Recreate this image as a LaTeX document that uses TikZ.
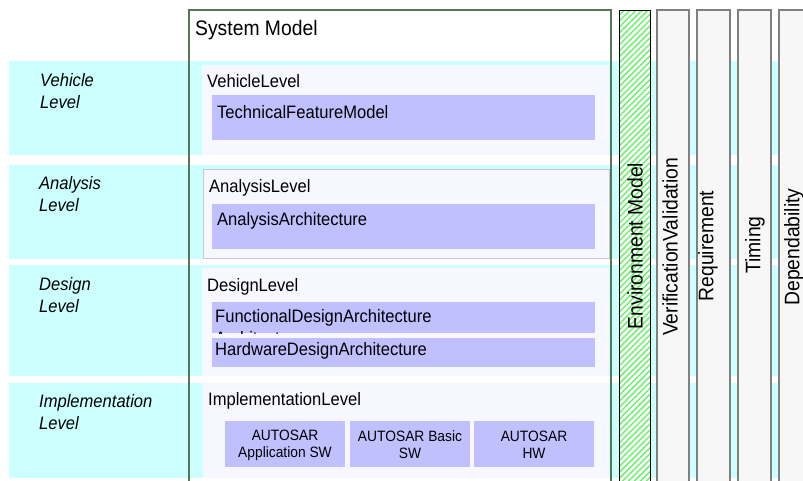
\documentclass[tikz,border=0pt]{standalone}
\usepackage{fontspec}
\setmainfont{Liberation Sans}[FakeStretch=0.92]
\usetikzlibrary{patterns.meta}

\definecolor{bandcyan}{HTML}{CCFFFF}
\definecolor{levelfill}{HTML}{F7F7FF}
\definecolor{partfill}{HTML}{C0C0FF}
\definecolor{colfill}{HTML}{F7F7F7}
\definecolor{colline}{HTML}{808080}
\definecolor{sysline}{HTML}{557755}
\definecolor{hatchgreen}{HTML}{70F070}
\definecolor{boxline}{HTML}{C8C8C8}

\begin{document}
\begin{tikzpicture}[x=1pt,y=-1pt,
  txt/.style={anchor=base west, inner sep=0pt, font=\fontsize{18}{22}\selectfont},
  title/.style={anchor=base west, inner sep=0pt, font=\fontsize{21}{25}\selectfont},
  lvltxt/.style={anchor=base west, inner sep=0pt, align=left,
    font=\fontsize{18}{22}\selectfont\itshape},
  swtxt/.style={inner sep=0pt, align=center, font=\fontsize{15}{17}\selectfont},
  coltxt/.style={rotate=90, inner sep=0pt, font=\fontsize{21}{25}\selectfont},
  band/.style={fill=bandcyan},
  levelbox/.style={fill=levelfill},
  part/.style={fill=partfill},
  viewcol/.style={fill=colfill, draw=colline, line width=1.6pt},
]
\useasboundingbox (0,0) rectangle (803,480);
\clip (0,0) rectangle (803,480);

% system model background
\fill[white] (189,10) rectangle (611,500);

% abstraction level bands
\fill[band] (9,61)  rectangle (803,155);
\fill[band] (9,165) rectangle (803,259);
\fill[band] (9,265) rectangle (803,376);
\fill[band] (9,383) rectangle (803,478);

% level containers
\fill[levelbox] (202,65)  rectangle (609,155);
\filldraw[levelbox, draw=boxline, line width=0.8pt] (203,169) rectangle (609,258);
\fill[levelbox] (202,268) rectangle (609,376);
\fill[levelbox] (203,383) rectangle (609,478);

% level contents
\fill[part] (212,95)  rectangle (595,140);
\fill[part] (212,204) rectangle (595,249);
\fill[part] (212,302) rectangle (595,333);
\fill[part] (212,338) rectangle (595,367);
\fill[part] (225,421) rectangle (345,467);
\fill[part] (350,421) rectangle (470,467);
\fill[part] (474,421) rectangle (594,467);

% system model frame
\draw[sysline, line width=1.2pt] (189,500) -- (189,10) -- (611,10) -- (611,500);

% cross-cutting columns
\fill[white] (619,10) rectangle (650,500);
\fill[pattern={Lines[angle=45,distance=4.2pt,line width=1.5pt]}, pattern color=hatchgreen]
  (619,10) rectangle (650,500);
\draw[black, line width=1pt] (619,500) -- (619,10) -- (650,10) -- (650,500);
\draw[viewcol] (657,500) -- (657,10) -- (689,10) -- (689,500);
\draw[viewcol] (697,500) -- (697,10) -- (730,10) -- (730,500);
\draw[viewcol] (738,500) -- (738,10) -- (771,10) -- (771,500);
\draw[viewcol] (779,500) -- (779,10) -- (820,10) -- (820,500);

% texts (base of a two-line node is the baseline of its last line)
\node[title] (sysmodel) at (195,35) {System Model};

\node[lvltxt] (vehlbl)  at (40,108) {Vehicle\\Level};
\node[lvltxt] (analbl)  at (39,211) {Analysis\\Level};
\node[lvltxt] (deslbl)  at (39,312) {Design\\Level};
\node[lvltxt] (implbl)  at (39,429) {Implementation\\Level};

\node[txt] (vehlevel) at (207,87)  {VehicleLevel};
\node[txt] (tfm)      at (217,118) {TechnicalFeatureModel};
\node[txt] (analevel) at (209,192) {AnalysisLevel};
\node[txt] (aa)       at (217,225) {AnalysisArchitecture};
\node[txt] (deslevel) at (207,291) {DesignLevel};
\begin{scope}
  \clip (212,302) rectangle (595,333);
  \node[txt, align=left] (fda) at (215,344) {FunctionalDesignArchitecture\\Architecture};
\end{scope}
\node[txt] (hda)      at (215,355) {HardwareDesignArchitecture};
\node[txt] (implevel) at (208,405) {ImplementationLevel};

\node[swtxt] (appsw)   at (285,445) {AUTOSAR\\Application SW};
\node[swtxt] (basicsw) at (410,445) {AUTOSAR Basic\\SW};
\node[swtxt] (hw)      at (534,445) {AUTOSAR\\HW};

\node[coltxt] (envmodel) at (635,246) {Environment Model};
\node[coltxt] (vv)       at (670,247) {VerificationValidation};
\node[coltxt] (req)      at (708,246) {Requirement};
\node[coltxt] (timing)   at (755,245) {Timing};
\node[coltxt] (dep)      at (794,247) {Dependability};
\end{tikzpicture}
\end{document}
